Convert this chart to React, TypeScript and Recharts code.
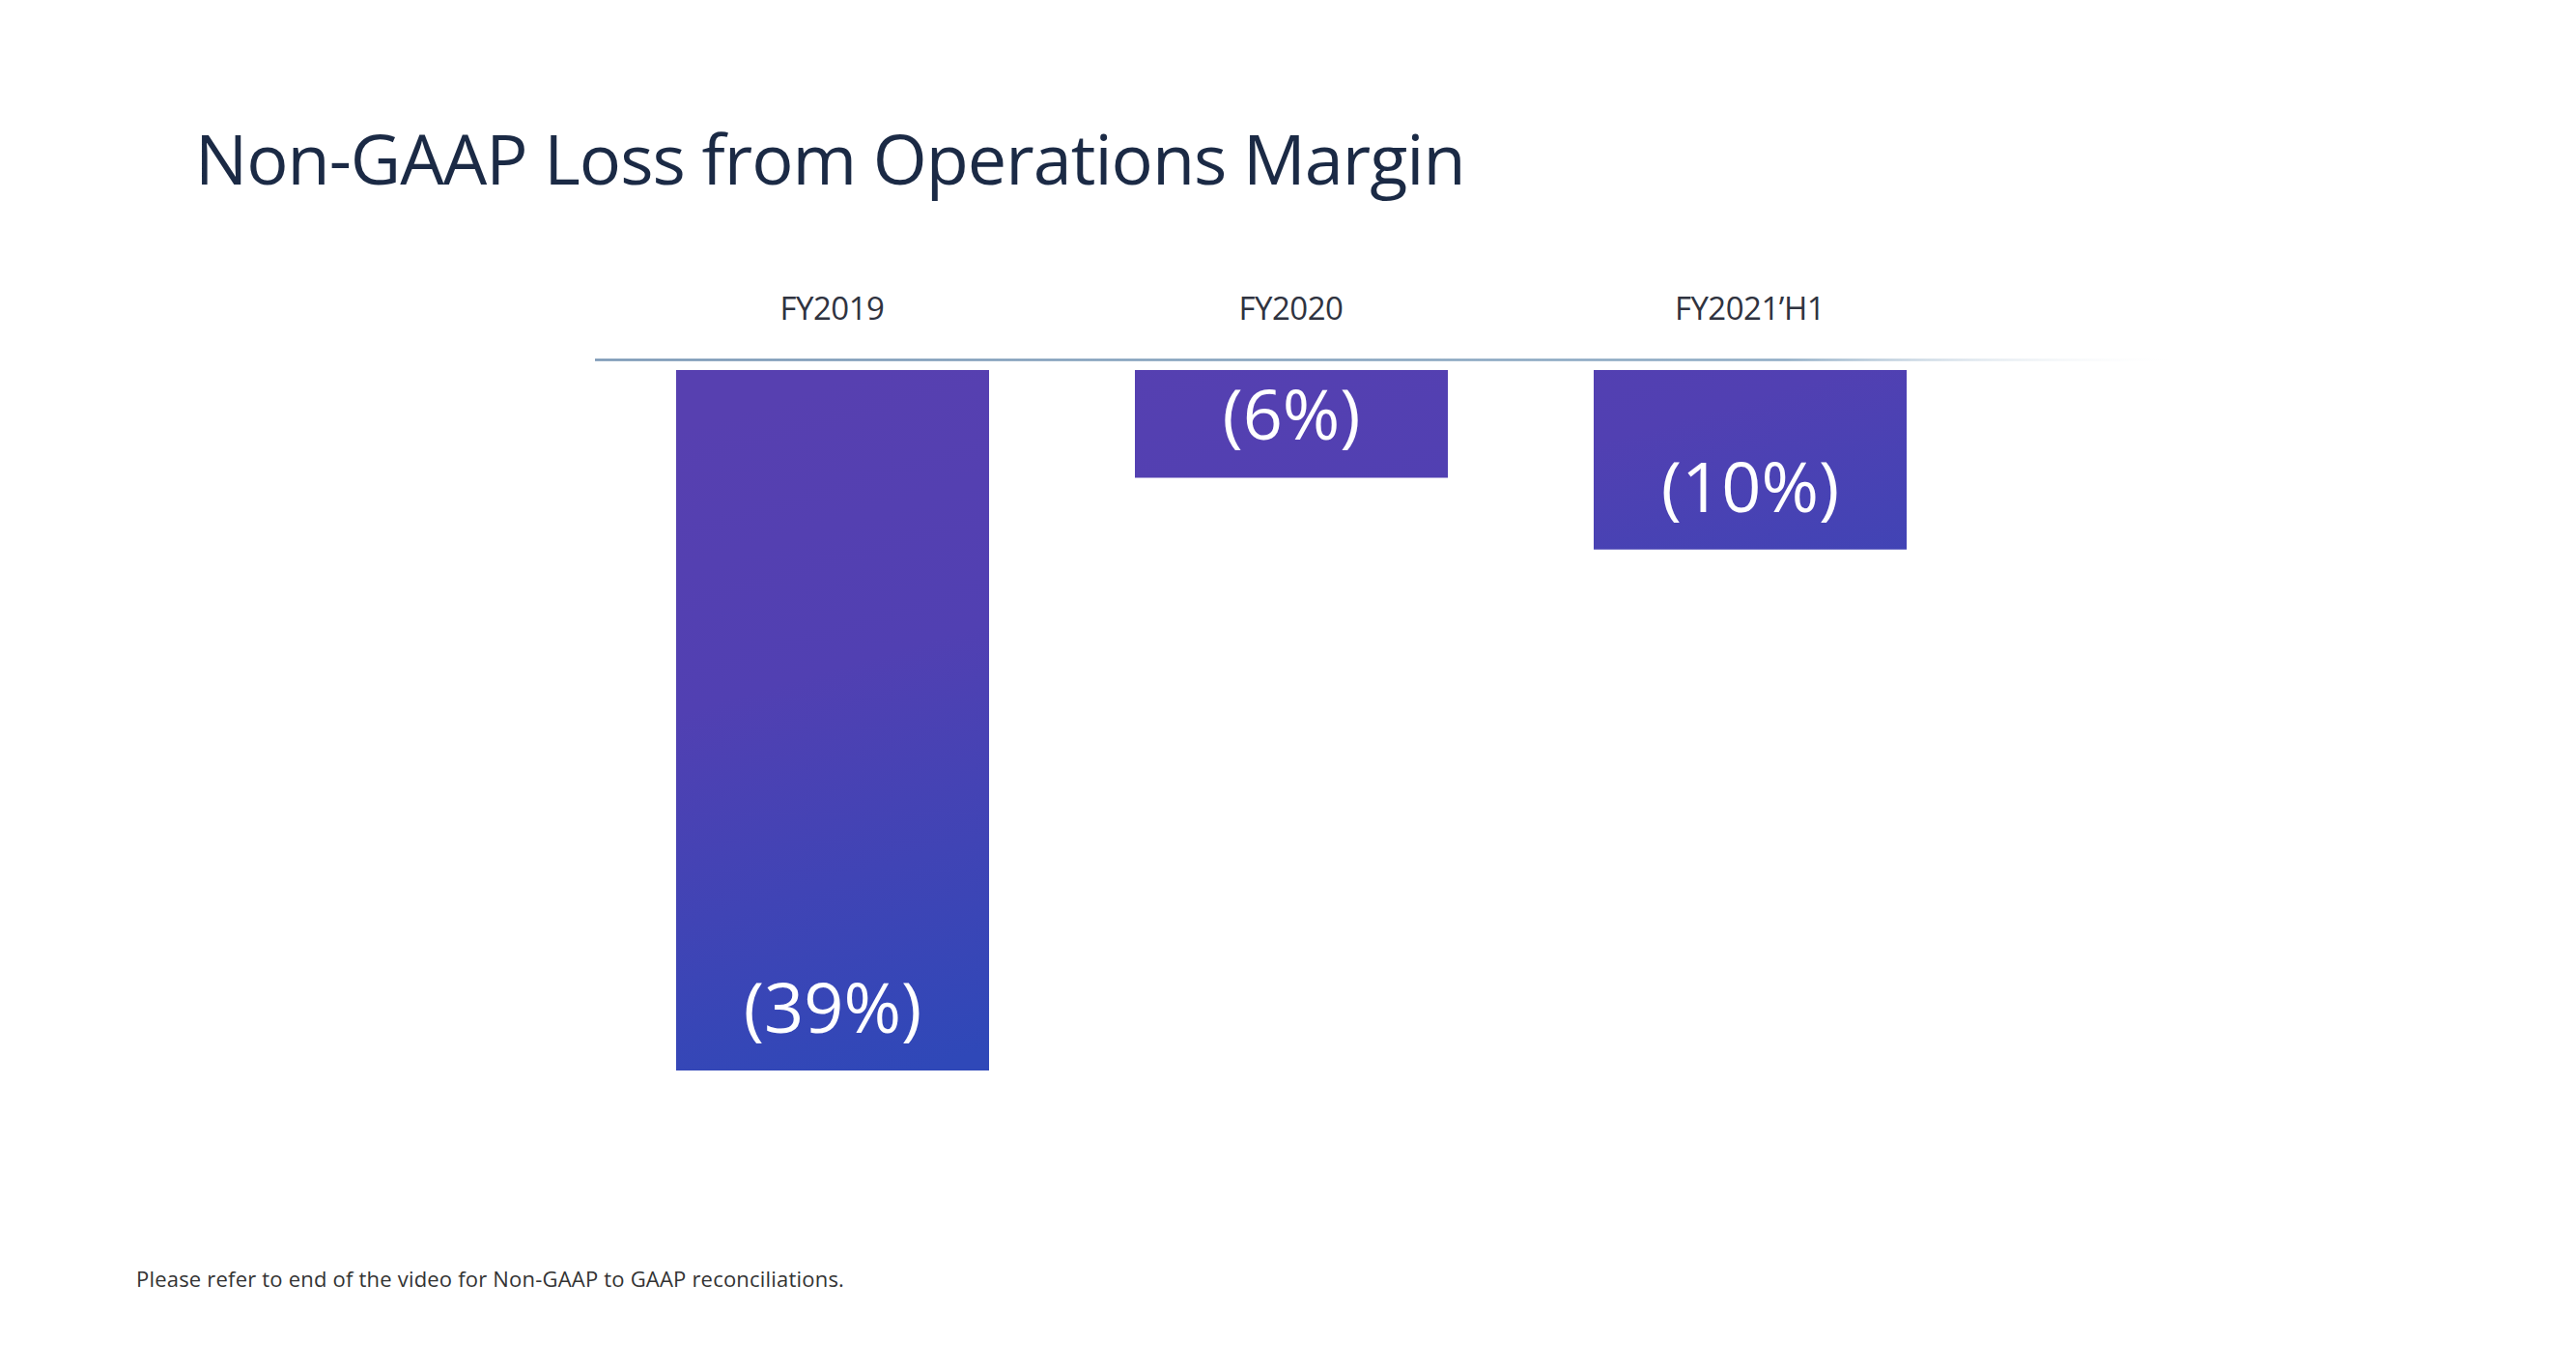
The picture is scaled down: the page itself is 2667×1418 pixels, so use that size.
import React from 'react';
import { BarChart, Bar, XAxis, YAxis, LabelList } from 'recharts';

const categories = ['FY2019', 'FY2020', 'FY2021’H1'];
const marginValues = [-39, -6, -10];

const data = categories.map((name, i) => ({ name, value: marginValues[i] }));

const FONT = '"Open Sans", "Noto Sans", sans-serif';

const CategoryTick = (props: any) => {
  const { x, y, payload } = props;
  return (
    <text
      x={x}
      y={y - 54}
      textAnchor="middle"
      dominantBaseline="central"
      fill="#2f3340"
      fontSize={33}
      fontFamily={FONT}
      letterSpacing={-0.5}
    >
      {payload.value}
    </text>
  );
};

// value label sits a fixed distance above the bottom of each bar
const BarValueLabel = (props: any) => {
  const { x, y, width, height, value } = props;
  const bottom = Math.max(y, y + height);
  return (
    <text
      x={x + width / 2}
      y={bottom - 67}
      textAnchor="middle"
      dominantBaseline="central"
      fill="#ffffff"
      fontSize={72}
      fontFamily={FONT}
    >
      {`(${Math.abs(value)}%)`}
    </text>
  );
};

export default function App() {
  return (
    <div
      style={{
        position: 'absolute',
        left: 0,
        top: 0,
        width: 2667,
        height: 1418,
        background: '#ffffff',
        fontFamily: FONT,
      }}
    >
      <div
        style={{
          position: 'absolute',
          left: 202,
          top: 114,
          fontSize: 72,
          color: '#1b2a45',
          letterSpacing: -1,
          whiteSpace: 'nowrap',
        }}
      >
        Non-GAAP Loss from Operations Margin
      </div>

      <div style={{ position: 'absolute', left: 0, top: 0 }}>
        <BarChart
          width={2667}
          height={1418}
          data={data}
          margin={{ top: 272.5, right: 422, bottom: 291.5, left: 616 }}
        >
          <defs>
            <linearGradient id="axisFade" gradientUnits="userSpaceOnUse" x1={616} y1={0} x2={2260} y2={0}>
              <stop offset="0%" stopColor="#7896b4" />
              <stop offset="75%" stopColor="#8eabc4" />
              <stop offset="100%" stopColor="#ffffff" stopOpacity={0} />
            </linearGradient>
            <linearGradient id="barFill" gradientUnits="userSpaceOnUse" x1={780} y1={420} x2={980} y2={1100}>
              <stop offset="0%" stopColor="#5740b0" />
              <stop offset="40%" stopColor="#5140b2" />
              <stop offset="100%" stopColor="#2f48b8" />
            </linearGradient>
          </defs>
          <XAxis
            dataKey="name"
            orientation="top"
            height={100}
            padding={{ left: 8, right: 196 }}
            axisLine={{ stroke: 'url(#axisFade)', strokeWidth: 2.5 }}
            tickLine={false}
            tickSize={0}
            tickMargin={0}
            tick={<CategoryTick />}
          />
          <YAxis hide type="number" domain={[-40, 0.56]} allowDataOverflow />
          <Bar dataKey="value" fill="url(#barFill)" barSize={324} isAnimationActive={false}>
            <LabelList dataKey="value" content={<BarValueLabel />} />
          </Bar>
        </BarChart>
      </div>

      <div
        style={{
          position: 'absolute',
          left: 141,
          top: 1308,
          fontSize: 22,
          letterSpacing: 0.2,
          color: '#333333',
          whiteSpace: 'nowrap',
        }}
      >
        Please refer to end of the video for Non-GAAP to GAAP reconciliations.
      </div>
    </div>
  );
}
